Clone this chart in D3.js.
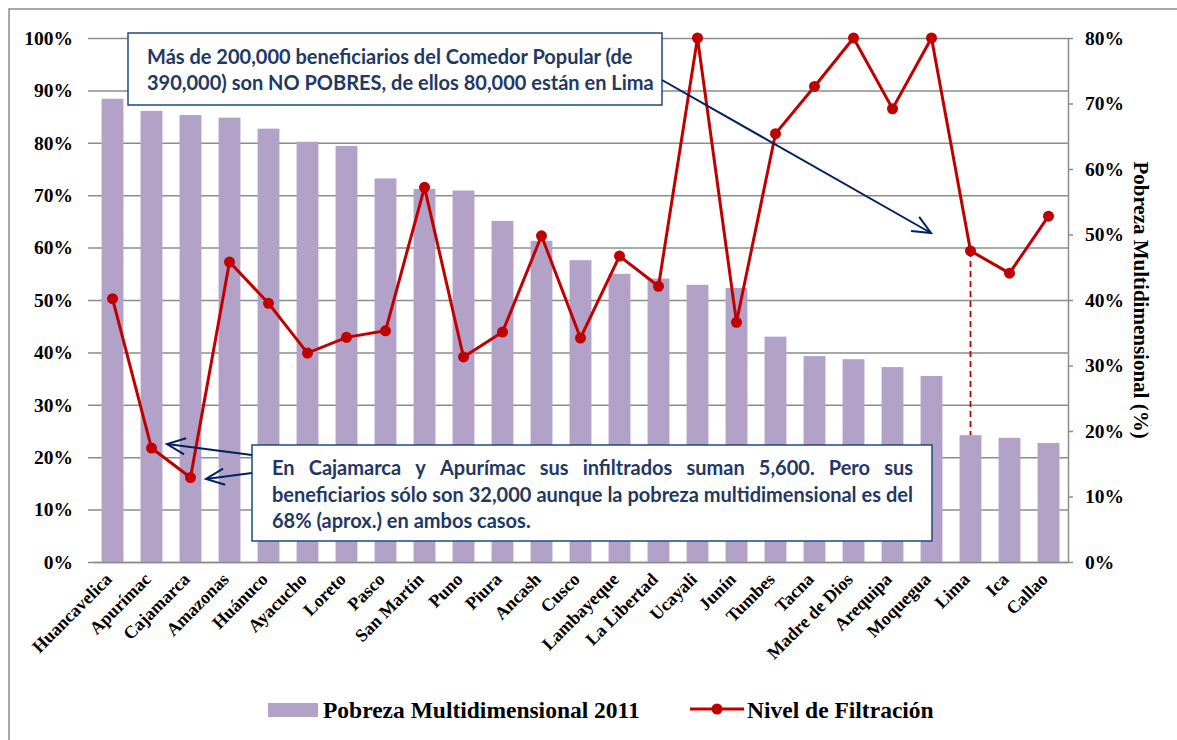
<!DOCTYPE html>
<html>
<head>
<meta charset="utf-8">
<script src="https://cdn.jsdelivr.net/npm/d3@7"></script>
<style>
body { margin: 0; background: #fff; }
svg { display: block; }
</style>
</head>
<body>
<div id="chart"></div>
<script>
//Data
var regions = ["Huancavelica","Apurímac","Cajamarca","Amazonas","Huánuco","Ayacucho","Loreto","Pasco","San Martín","Puno","Piura","Ancash","Cusco","Lambayeque","La Libertad","Ucayali","Junín","Tumbes","Tacna","Madre de Dios","Arequipa","Moquegua","Lima","Ica","Callao"];
var pobreza = [88.4,86.1,85.3,84.8,82.7,80.2,79.4,73.2,71.2,70.9,65.1,61.3,57.6,55.0,54.1,52.9,52.3,43.0,39.3,38.7,37.2,35.5,24.2,23.7,22.7];
var filtracion = [40.2,17.4,12.9,45.8,39.5,31.9,34.3,35.3,57.2,31.3,35.1,49.8,34.2,46.7,42.1,80.0,36.6,65.4,72.6,80.0,69.2,80.0,47.5,44.1,52.8];
var leftTicks = [0,10,20,30,40,50,60,70,80,90,100];
var rightTicks = [0,10,20,30,40,50,60,70,80];

var note1 = ["Más de 200,000 beneficiarios del Comedor Popular (de",
             "390,000) son NO POBRES, de ellos 80,000 están en Lima"];
var note2 = ["En Cajamarca y Apurímac sus infiltrados suman 5,600. Pero sus",
             "beneficiarios sólo son 32,000 aunque la pobreza multidimensional es del",
             "68% (aprox.) en ambos casos."];

var width = 1177, height = 740;
var pLeft = 93, pRight = 1068, pTop = 38, pBottom = 562;

var svg = d3.select("#chart").append("svg")
    .attr("width", width)
    .attr("height", height);

var serif = "'Liberation Serif','Times New Roman',serif";
var sans = "Lato,'Open Sans',sans-serif";
var navy = "#1f3864";

//Outer chart border
svg.append("rect")
    .attr("x", 9).attr("y", 9)
    .attr("width", 1200).attr("height", 760)
    .attr("fill", "none")
    .attr("stroke", "#8c8c8c")
    .attr("stroke-width", 1.5);

var x = d3.scaleBand()
    .domain(regions)
    .range([pLeft, pRight])
    .paddingInner(0.44)
    .paddingOuter(0.22);

var yL = d3.scaleLinear().domain([0, 100]).range([pBottom, pTop]);
var yR = d3.scaleLinear().domain([0, 80]).range([pBottom, pTop]);

//Gridlines + left axis
var gl = svg.append("g")
    .attr("transform", "translate(" + pLeft + ",0)")
    .call(d3.axisLeft(yL).tickValues(leftTicks).tickSize(-(pRight - pLeft)).tickSizeOuter(0).tickPadding(20)
        .tickFormat(d => d + "%"));
gl.select(".domain").remove();
gl.selectAll(".tick line").attr("stroke", "#8c8c8c").attr("stroke-width", 1.5).attr("x1", -5);
gl.selectAll(".tick text")
    .attr("font-family", serif).attr("font-weight", "bold").attr("font-size", 19.5).attr("fill", "#000");

//Bars
svg.selectAll(".bar")
    .data(pobreza)
    .enter()
    .append("rect")
    .attr("class", "bar")
    .attr("x", (d, i) => x(regions[i]))
    .attr("y", d => yL(d))
    .attr("width", x.bandwidth())
    .attr("height", d => yL(0) - yL(d))
    .attr("fill", "#b3a2c7");

//Bottom axis
var gx = svg.append("g")
    .attr("transform", "translate(0," + pBottom + ")")
    .call(d3.axisBottom(x).tickSize(0).tickSizeOuter(0));
gx.select(".domain").attr("stroke", "#8c8c8c").attr("stroke-width", 1.5);
gx.selectAll(".tick text")
    .attr("font-family", serif).attr("font-weight", "bold").attr("font-size", 18).attr("fill", "#000")
    .attr("text-anchor", "end")
    .attr("transform", "translate(-4,14) rotate(-45)")
    .attr("dy", "0.35em")
    .attr("y", 0);

//Right axis
var gr = svg.append("g")
    .attr("transform", "translate(" + pRight + ",0)")
    .call(d3.axisRight(yR).tickValues(rightTicks).tickSize(5).tickSizeOuter(0).tickPadding(12)
        .tickFormat(d => d + "%"));
gr.select(".domain").attr("stroke", "#8c8c8c").attr("stroke-width", 1.5);
gr.selectAll(".tick line").attr("stroke", "#8c8c8c").attr("stroke-width", 1.5);
gr.selectAll(".tick text")
    .attr("font-family", serif).attr("font-weight", "bold").attr("font-size", 19.5).attr("fill", "#000");

svg.append("text")
    .attr("transform", "translate(1134,300) rotate(90)")
    .attr("text-anchor", "middle")
    .attr("font-family", serif).attr("font-weight", "bold").attr("font-size", 21)
    .text("Pobreza Multidimensional (%)");

//Dashed drop line Lima
var iLima = regions.indexOf("Lima");
var cx = d => x(d) + x.bandwidth() / 2;
svg.append("line")
    .attr("x1", cx("Lima")).attr("x2", cx("Lima"))
    .attr("y1", yR(filtracion[iLima])).attr("y2", yL(pobreza[iLima]))
    .attr("stroke", "#c00000").attr("stroke-width", 1.8)
    .attr("stroke-dasharray", "6,4");

//Line series
var line = d3.line()
    .x((d, i) => cx(regions[i]))
    .y(d => yR(d));

svg.append("path")
    .datum(filtracion)
    .attr("d", line)
    .attr("fill", "none")
    .attr("stroke", "#c00000")
    .attr("stroke-width", 3);

svg.selectAll(".dot")
    .data(filtracion)
    .enter()
    .append("circle")
    .attr("class", "dot")
    .attr("cx", (d, i) => cx(regions[i]))
    .attr("cy", d => yR(d))
    .attr("r", 5.5)
    .attr("fill", "#c00000");

//Arrows
function arrow(x1, y1, x2, y2) {
    var a = Math.atan2(y2 - y1, x2 - x1);
    var len = 20, spread = 0.42;
    svg.append("line")
        .attr("x1", x1).attr("y1", y1).attr("x2", x2).attr("y2", y2)
        .attr("stroke", "#002060").attr("stroke-width", 2);
    var p = d3.path();
    p.moveTo(x2 - len * Math.cos(a - spread), y2 - len * Math.sin(a - spread));
    p.lineTo(x2, y2);
    p.lineTo(x2 - len * Math.cos(a + spread), y2 - len * Math.sin(a + spread));
    svg.append("path")
        .attr("d", p.toString())
        .attr("fill", "none")
        .attr("stroke", "#002060").attr("stroke-width", 2);
}

//Justify a line word by word between x0 and x1
function justify(g, str, x0, x1, y) {
    var words = str.split(" ");
    var nodes = words.map(function(w) {
        return g.append("text").attr("y", y)
            .attr("font-family", sans).attr("font-weight", "bold").attr("font-size", 20)
            .attr("fill", navy).text(w);
    });
    var widths = nodes.map(n => n.node().getComputedTextLength());
    var gap = (x1 - x0 - d3.sum(widths)) / (words.length - 1);
    var pos = x0;
    nodes.forEach(function(n, i) {
        n.attr("x", pos);
        pos += widths[i] + gap;
    });
}

//Note 1
svg.append("rect")
    .attr("x", 128).attr("y", 33).attr("width", 534).attr("height", 72)
    .attr("fill", "#fff").attr("stroke", "#1f497d").attr("stroke-width", 1.5);
svg.selectAll(".n1")
    .data(note1)
    .enter()
    .append("text")
    .attr("class", "n1")
    .attr("x", 147)
    .attr("y", (d, i) => 64 + i * 26)
    .attr("font-family", sans).attr("font-weight", "bold").attr("font-size", 20)
    .attr("fill", navy)
    .text(d => d);
arrow(662, 80, 931, 233);

//Note 2
svg.append("rect")
    .attr("x", 252).attr("y", 445).attr("width", 680).attr("height", 96)
    .attr("fill", "#fff").attr("stroke", "#1f497d").attr("stroke-width", 1.5);
var n2 = svg.append("g");
justify(n2, note2[0], 272, 913, 475);
justify(n2, note2[1], 272, 913, 501.5);
n2.append("text")
    .attr("x", 272).attr("y", 528)
    .attr("font-family", sans).attr("font-weight", "bold").attr("font-size", 20)
    .attr("fill", navy)
    .text(note2[2]);
arrow(252, 455, 167, 444);
arrow(252, 473, 206, 479);

//Legend
svg.append("rect")
    .attr("x", 268).attr("y", 703).attr("width", 50).attr("height", 14)
    .attr("fill", "#b3a2c7");
svg.append("text")
    .attr("x", 323).attr("y", 718)
    .attr("font-family", serif).attr("font-weight", "bold").attr("font-size", 23.5)
    .text("Pobreza Multidimensional 2011");
svg.append("line")
    .attr("x1", 690).attr("x2", 744).attr("y1", 709).attr("y2", 709)
    .attr("stroke", "#c00000").attr("stroke-width", 3);
svg.append("circle")
    .attr("cx", 717).attr("cy", 709).attr("r", 5.5)
    .attr("fill", "#c00000");
svg.append("text")
    .attr("x", 747).attr("y", 718)
    .attr("font-family", serif).attr("font-weight", "bold").attr("font-size", 23.5)
    .text("Nivel de Filtración");
</script>
</body>
</html>
